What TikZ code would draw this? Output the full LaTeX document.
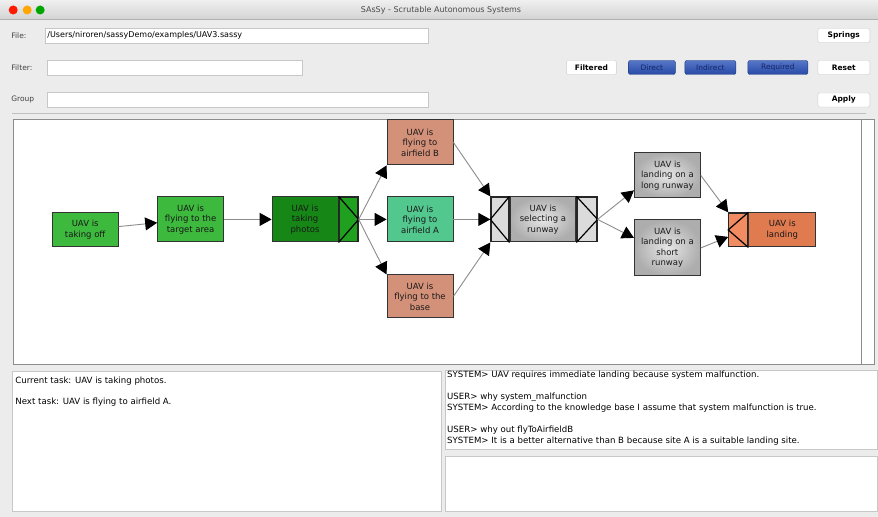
\documentclass[tikz,border=0pt]{standalone}
\usepackage{fontspec}
\setmainfont{DejaVu Sans}
\usepackage{xcolor}
\usepackage{tikz}
\usetikzlibrary{arrows.meta, positioning}

\definecolor{winbg}{HTML}{ECECEC}
\definecolor{taskgreen}{HTML}{3DB93D}
\definecolor{photogreen}{HTML}{168716}
\definecolor{photoside}{HTML}{1FA01F}
\definecolor{mint}{HTML}{52C78E}
\definecolor{salmon}{HTML}{D4917A}
\definecolor{landorange}{HTML}{E07A4F}
\definecolor{landside}{HTML}{F08B62}
\definecolor{btnblue}{HTML}{2C53B9}
\definecolor{btntext}{HTML}{14256A}

\begin{document}
\begin{tikzpicture}[
    x=1pt, y=-1pt,
    task/.style={rectangle, draw=black!80, line width=0.9pt, minimum width=66pt, minimum height=45pt, inner sep=0pt, align=center, font=\fontsize{8.5}{10.5}\selectfont, text=black!90},
    side/.style={rectangle, draw=black!85, line width=1.2pt, minimum width=19pt, minimum height=45pt, inner sep=0pt},
    greytask/.style={task, inner color=black!10, outer color=black!32},
    field/.style={rectangle, draw=black!22, fill=white, minimum height=15pt, inner sep=2pt, anchor=west, align=left, font=\fontsize{8}{10}\selectfont},
    button/.style={rectangle, rounded corners=2pt, draw=black!20, fill=white, minimum height=14pt, inner sep=0pt, font=\bfseries\fontsize{7.5}{9}\selectfont},
    bluebutton/.style={button, draw=btnblue!70!black, top color=btnblue!80!white, bottom color=btnblue!90!black, text=btntext, font=\fontsize{7.5}{9}\selectfont},
    fieldlabel/.style={anchor=west, inner sep=0pt, font=\fontsize{7.5}{9}\selectfont, text=black!75},
    panel/.style={rectangle, draw=black!22, fill=white, anchor=north west, inner sep=0pt},
    msg/.style={anchor=west, inner sep=0pt, font=\fontsize{8.6}{10}\selectfont},
    arrow/.style={-{Triangle[length=12pt, width=13pt, color=black]}, draw=black!45, line width=0.9pt}
]

\fill[winbg] (0,0) rectangle (878,517);
\shade[top color=black!6, bottom color=black!17] (0,0) rectangle (878,19);
\draw[black!30] (0,19) -- (878,19);
\fill[red!80!orange] (13,10) circle (4.5pt);
\fill[orange!70!yellow] (27,10) circle (4.5pt);
\fill[green!65!black] (40,10) circle (4.5pt);
\node[font=\fontsize{8}{10}\selectfont, text=black!70] (title) at (441,10) {SAsSy - Scrutable Autonomous Systems};

\node[fieldlabel] (filelabel) at (11,35.5) {File:};
\node[field, text width=379pt] (filefield) at (45,35.5) {/Users/niroren/sassyDemo/examples/UAV3.sassy};
\node[fieldlabel] (filterlabel) at (11,67.5) {Filter:};
\node[field, text width=251pt] (filterfield) at (47,67.5) {};
\node[fieldlabel] (grouplabel) at (11,100) {Group};
\node[field, text width=377pt] (groupfield) at (47,100) {};

\node[button, minimum width=52pt] (springs) at (844,35.5) {Springs};
\node[button, minimum width=50pt] (filtered) at (591.5,67.5) {Filtered};
\node[bluebutton, minimum width=47pt] (direct) at (652,67.5) {Direct};
\node[bluebutton, minimum width=51pt] (indirect) at (710.5,67.5) {Indirect};
\node[bluebutton, minimum width=60pt] (required) at (778,67.5) {Required};
\node[button, minimum width=52pt] (reset) at (844,67.5) {Reset};
\node[button, minimum width=52pt] (apply) at (844,100) {Apply};

\draw[black!25] (12,113) -- (866,113);
\draw[black!45, line width=1.2pt, fill=white] (13,119.5) rectangle (875,364.5);
\draw[black!45, line width=1.2pt] (862,119.5) -- (862,364.5);

\node[task, fill=taskgreen, minimum height=34pt] (takeoff) at (85,230) {UAV is\\taking off};
\node[task, fill=taskgreen] (target) at (190.5,219.5) {UAV is\\flying to the\\target area};
\node[task, fill=photogreen] (photos) at (305,219.5) {UAV is\\taking\\photos};
\node[side, fill=photoside, right=0pt of photos] (photosout) {};
\node[task, fill=salmon] (airB) at (420,142.5) {UAV is\\flying to\\airfield B};
\node[task, fill=mint] (airA) at (420,219.5) {UAV is\\flying to\\airfield A};
\node[task, fill=salmon, minimum height=43pt] (base) at (420,296.5) {UAV is\\flying to the\\base};
\node[greytask] (select) at (543,219.5) {UAV is\\selecting a\\runway};
\node[side, fill=black!14, minimum width=18pt, left=0pt of select] (selectin) {};
\node[side, fill=black!14, minimum width=20pt, right=0pt of select] (selectout) {};
\node[greytask] (long) at (667.5,175.5) {UAV is\\landing on a\\long runway};
\node[greytask, minimum height=56pt] (short) at (667.5,248) {UAV is\\landing on a\\short\\runway};
\node[task, fill=landorange, minimum width=67pt, minimum height=34pt] (landing) at (782.5,230) {UAV is\\landing};
\node[side, fill=landside, minimum height=34pt, left=0pt of landing] (landingin) {};

\draw[line width=1.2pt] (photosout.north west) -- (photosout.east) -- (photosout.south west);
\draw[line width=1.2pt] (selectin.north east) -- (selectin.west) -- (selectin.south east);
\draw[line width=1.2pt] (selectout.north west) -- (selectout.east) -- (selectout.south west);
\draw[line width=1.2pt] (landingin.north east) -- (landingin.west) -- (landingin.south east);

\draw[arrow] (takeoff) -- (target);
\draw[arrow] (target) -- (photos);
\draw[arrow] (photosout.east) -- (airB.south west);
\draw[arrow] (photosout.east) -- (airA);
\draw[arrow] (photosout.east) -- (base.north west);
\draw[arrow] (airB.east) -- (selectin.north west);
\draw[arrow] (airA) -- (selectin.west);
\draw[arrow] (base.east) -- (selectin.south west);
\draw[arrow] (selectout.east) -- ([yshift=8pt]long.south west);
\draw[arrow] (selectout.east) -- ([yshift=10pt]short.west);
\draw[arrow] (long.east) -- (landingin.north west);
\draw[arrow] (short.east) -- ([yshift=-7pt]landingin.west);

\node[panel, minimum width=429pt, minimum height=140pt] (status) at (12,371) {};
\node[panel, minimum width=432pt, minimum height=79pt] (dialog) at (445,370) {};
\node[panel, minimum width=432pt, minimum height=55pt] (input) at (445,456) {};

\node[msg] (current) at (15,381) {Current task: UAV is taking photos.};
\node[msg] (next) at (15,402) {Next task: UAV is flying to airfield A.};
\node[msg] (sysone) at (447,375.5) {SYSTEM> UAV requires immediate landing because system malfunction.};
\node[msg] (userone) at (447,397) {USER> why system\_malfunction};
\node[msg] (systwo) at (447,408) {SYSTEM> According to the knowledge base I assume that system malfunction is true.};
\node[msg] (usertwo) at (447,430) {USER> why out flyToAirfieldB};
\node[msg] (systhree) at (447,441) {SYSTEM> It is a better alternative than B because site A is a suitable landing site.};

\end{tikzpicture}
\end{document}
